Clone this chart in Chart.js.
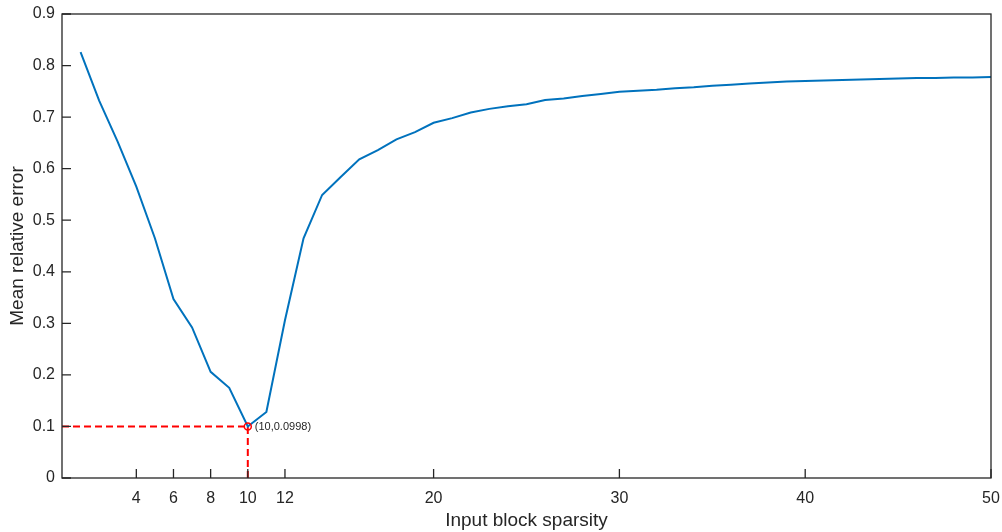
<!DOCTYPE html>
<html>
<head>
<meta charset="utf-8">
<script src="https://cdn.jsdelivr.net/npm/chart.js@4"></script>
<style>
  html, body { margin: 0; padding: 0; background: #fff; }
  #wrap { width: 1002px; height: 532px; position: relative; }
</style>
</head>
<body>
<div id="wrap"><canvas id="myChart"></canvas></div>
<script>
// block sparsity on the x axis, error
var sparsity = [1, 2, 3, 4, 5, 6, 7, 8, 9, 10,
  11, 12, 13, 14, 15, 16, 17, 18, 19, 20,
  21, 22, 23, 24, 25, 26, 27, 28, 29, 30,
  31, 32, 33, 34, 35, 36, 37, 38, 39, 40,
  41, 42, 43, 44, 45, 46, 47, 48, 49, 50];
var meanError = [0.826, 0.732, 0.652, 0.565, 0.465, 0.347, 0.292, 0.206, 0.175, 0.0998,
  0.128, 0.306, 0.465, 0.549, 0.584, 0.618, 0.636, 0.657, 0.671, 0.689,
  0.698, 0.709, 0.716, 0.721, 0.725, 0.733, 0.736, 0.741, 0.745, 0.749,
  0.751, 0.753, 0.756, 0.758, 0.761, 0.763, 0.765, 0.767, 0.769, 0.770,
  0.771, 0.772, 0.773, 0.774, 0.775, 0.776, 0.776, 0.777, 0.777, 0.778];
var xTicks = [4, 6, 8, 10, 12, 20, 30, 40, 50];
var yTicks = [0, 0.1, 0.2, 0.3, 0.4, 0.5, 0.6, 0.7, 0.8, 0.9];
var minX = 10;
var minY = 0.0998;

var axisColor = '#262626';
var fam = '"Liberation Sans", Arial, Helvetica, sans-serif';

// box, inward ticks and the min label
var frame = {
  id: 'frame',
  afterDatasetsDraw: function (chart) {
    var ctx = chart.ctx, a = chart.chartArea;
    var x = chart.scales.x, y = chart.scales.y;
    ctx.save();
    ctx.strokeStyle = axisColor;
    ctx.lineWidth = 1.3;
    ctx.strokeRect(a.left, a.top, a.right - a.left, a.bottom - a.top);
    ctx.beginPath();
    x.ticks.forEach(function (t) {
      var px = x.getPixelForValue(t.value);
      ctx.moveTo(px, a.bottom);
      ctx.lineTo(px, a.bottom - 9);
    });
    y.ticks.forEach(function (t) {
      var py = y.getPixelForValue(t.value);
      ctx.moveTo(a.left, py);
      ctx.lineTo(a.left + 9, py);
    });
    ctx.stroke();
    ctx.font = '11px ' + fam;
    ctx.fillStyle = axisColor;
    ctx.textBaseline = 'middle';
    ctx.fillText('(' + minX + ',' + minY + ')', x.getPixelForValue(minX) + 7, y.getPixelForValue(minY));
    ctx.restore();
  }
};

var ctx = document.getElementById('myChart').getContext('2d');
var myChart = new Chart(ctx, {
  type: 'line',
  data: {
    datasets: [{
      data: sparsity.map(function (s, i) { return {x: s, y: meanError[i]}; }),
      borderColor: '#0072BD',
      borderWidth: 2,
      pointRadius: 0,
      tension: 0,
      order: 2
    }, {
      data: [{x: 0, y: minY}, {x: minX, y: minY}],
      borderColor: '#FF0000',
      borderWidth: 2,
      borderDash: [7, 4],
      pointRadius: 0,
      order: 3
    }, {
      data: [{x: minX, y: 0}, {x: minX, y: minY}],
      borderColor: '#FF0000',
      borderWidth: 2,
      borderDash: [7, 4],
      pointRadius: 0,
      order: 3
    }, {
      data: [{x: minX, y: minY}],
      showLine: false,
      pointStyle: 'circle',
      pointRadius: 3.5,
      pointBorderWidth: 1.5,
      pointBorderColor: '#FF0000',
      pointBackgroundColor: 'rgba(0,0,0,0)',
      order: 1
    }]
  },
  options: {
    responsive: true,
    maintainAspectRatio: false,
    animation: false,
    devicePixelRatio: 1,
    layout: {padding: {top: 14, right: 11, left: 0, bottom: 0}},
    plugins: {
      legend: {display: false},
      tooltip: {enabled: false}
    },
    scales: {
      x: {
        type: 'linear',
        min: 0,
        max: 50,
        afterBuildTicks: function (s) { s.ticks = xTicks.map(function (v) { return {value: v}; }); },
        afterFit: function (s) { s.height = 54; s.paddingLeft = 0; s.paddingRight = 0; },
        grid: {display: false, drawTicks: false},
        border: {display: false},
        ticks: {padding: 11, autoSkip: false, maxRotation: 0, color: axisColor, font: {family: fam, size: 16}},
        title: {display: true, text: 'Input block sparsity', color: axisColor,
          font: {family: fam, size: 19}, padding: {top: 0, bottom: 0}}
      },
      y: {
        min: 0,
        max: 0.9,
        afterBuildTicks: function (s) { s.ticks = yTicks.map(function (v) { return {value: v}; }); },
        afterFit: function (s) { s.width = 62; s.paddingTop = 0; s.paddingBottom = 0; },
        grid: {display: false, drawTicks: false},
        border: {display: false},
        ticks: {padding: 7, color: axisColor, font: {family: fam, size: 16},
          callback: function (v) { return String(+v.toFixed(1)); }},
        title: {display: true, text: 'Mean relative error', color: axisColor,
          font: {family: fam, size: 19}, padding: {top: 6, bottom: 0}}
      }
    }
  },
  plugins: [frame]
});
</script>
</body>
</html>
